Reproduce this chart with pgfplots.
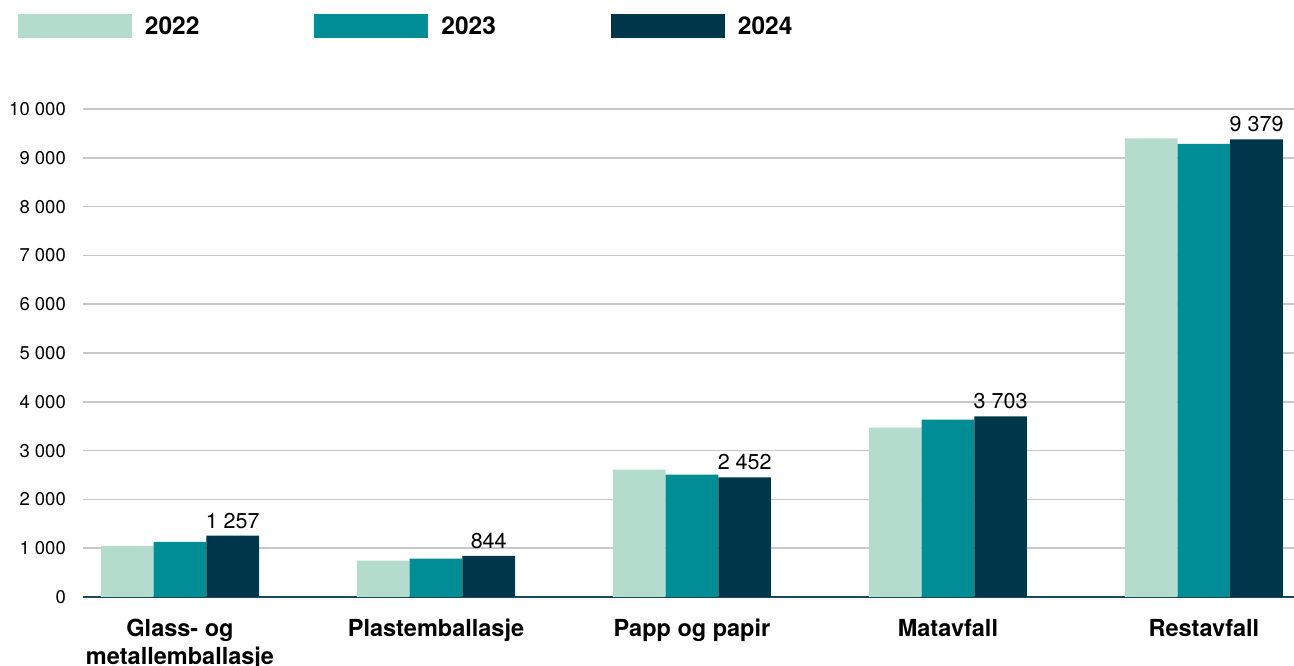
\documentclass[border=0pt]{standalone}
\usepackage{pgfplots}
\pgfplotsset{compat=1.18}
\usepackage{fontspec}
\setmainfont{TeX Gyre Heros}
\definecolor{cA}{HTML}{B4DCCD}
\definecolor{cB}{HTML}{008D96}
\definecolor{cC}{HTML}{00364A}
\definecolor{axl}{HTML}{1A4A5A}
\definecolor{grd}{HTML}{C8C8C8}
\begin{document}
\begin{tikzpicture}
\useasboundingbox (0,0) rectangle (1294pt,666pt);
\begin{axis}[
  at={(83pt,69pt)}, anchor=south west,
  scale only axis, width=1211pt, height=488pt,
  clip=false,
  ybar=0pt, bar width=52.7pt,
  xmin=-0.379, xmax=4.352,
  ymin=0, ymax=10000,
  ytick={1000,2000,...,10000},
  scaled y ticks=false,
  extra y ticks={0},
  extra y tick style={grid style={color=axl, line width=2pt}},
  ymajorgrids, grid style={color=grd, line width=1.6pt},
  major tick length=0pt,
  axis line style={draw=none},
  xtick={0,1,2,3,4},
  xticklabels={{Glass- og\\metallemballasje},Plastemballasje,Papp og papir,Matavfall,Restavfall},
  xticklabel style={font=\fontsize{23.5}{27.5}\selectfont\bfseries, align=center, inner sep=0pt, anchor=north, yshift=-22pt},
  yticklabel style={font=\fontsize{18.5}{22}\selectfont, inner sep=0pt, anchor=east, xshift=-17pt},
  /pgf/number format/.cd, fixed, precision=0, 1000 sep={\ }, assume math mode=true,
  /pgfplots/.cd,
  legend image code/.code={\fill[#1] (0pt,-12pt) rectangle (114pt,12pt);},
  legend columns=3,
  legend style={at={(-0.0537,1.1947)}, anchor=north west, draw=none, fill=none, inner sep=0pt, outer sep=0pt,
    font=\fontsize{24.5}{27}\selectfont\bfseries,
    nodes={inner sep=0pt, anchor=west},
    /tikz/every odd column/.append style={column sep=13pt},
    /tikz/every even column/.append style={column sep=115pt}},
]
\addplot[fill=cA, draw=none] coordinates {(0,1045) (1,743) (2,2608) (3,3469) (4,9398)};
\addplot[fill=cB, draw=none] coordinates {(0,1127) (1,784) (2,2506) (3,3633) (4,9283)};
\addplot[fill=cC, draw=none, nodes near coords,
  nodes near coords style={font=\fontsize{21.5}{24}\selectfont, text=black, anchor=south, inner sep=0pt, yshift=7pt}]
  coordinates {(0,1257) (1,844) (2,2452) (3,3703) (4,9379)};
\legend{2022,2023,2024}
\end{axis}
\end{tikzpicture}
\end{document}
